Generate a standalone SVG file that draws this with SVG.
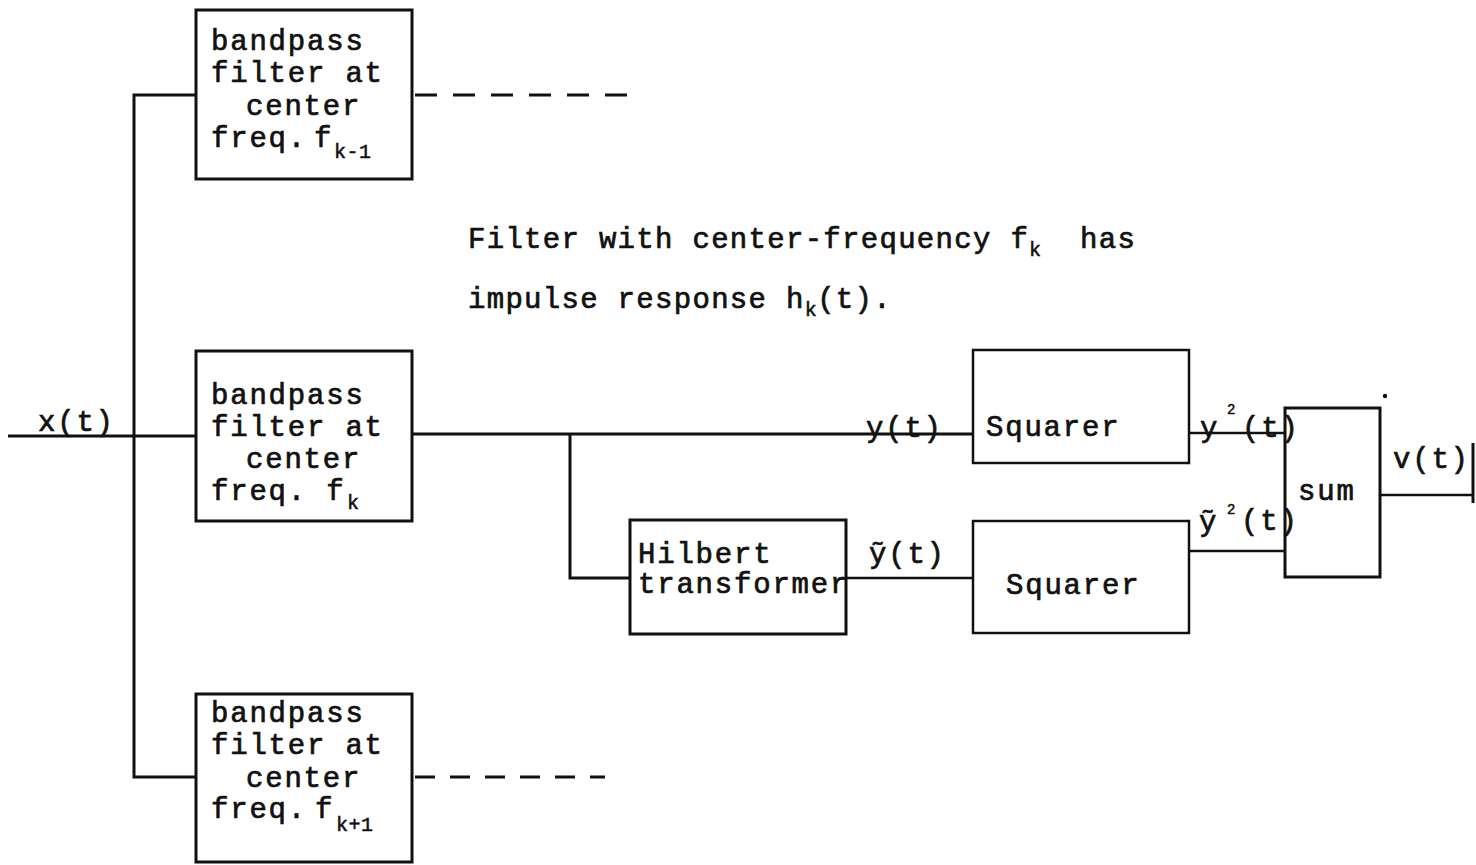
<svg xmlns="http://www.w3.org/2000/svg" width="1476" height="865" viewBox="0 0 1476 865">
  <style>
    .box { fill: none; stroke: #111; stroke-width: 3; }
    .thin { fill: none; stroke: #111; stroke-width: 2.5; }
    .wire { fill: none; stroke: #111; stroke-width: 3; }
    .dash { fill: none; stroke: #111; stroke-width: 3; stroke-dasharray: 20 15; }
    text { font-family: "Liberation Mono", "DejaVu Sans Mono", monospace; fill: #111; stroke: #111; stroke-width: 0.7; }
    .t { font-size: 29px; letter-spacing: 1.8px; }
    .h { font-size: 29px; letter-spacing: 1.3px; }
    .sub { font-size: 20px; letter-spacing: 0.5px; stroke-width: 0.5; }
    .sup { font-size: 14px; stroke-width: 0.5; }
  </style>
  <rect width="1476" height="865" fill="#ffffff"/>

  <!-- connectors -->
  <g id="connectors">
    <!-- input and distribution bus -->
    <line class="wire" x1="8" y1="436" x2="196" y2="436"/>
    <polyline class="wire" points="196,95 134,95 134,777 196,777"/>
    <!-- outputs of the neighbouring bands, continued elsewhere -->
    <line class="dash" x1="415" y1="95" x2="627" y2="95" style="stroke-dasharray: 22 16"/>
    <line class="dash" x1="415" y1="777" x2="605" y2="777"/>
    <!-- centre band output to squarer, with branch to the Hilbert transformer -->
    <line class="wire" x1="412" y1="434" x2="973" y2="434"/>
    <polyline class="wire" points="570,434 570,578 630,578"/>
    <line class="thin" x1="846" y1="578" x2="973" y2="578"/>
    <!-- squarers into the sum -->
    <line class="thin" x1="1189" y1="433" x2="1285" y2="433"/>
    <line class="thin" x1="1189" y1="551" x2="1285" y2="551"/>
    <!-- sum output -->
    <line class="thin" x1="1380" y1="495" x2="1473" y2="495"/>
    <line class="wire" x1="1473" y1="443" x2="1473" y2="503"/>
  </g>

  <!-- signal labels -->
  <g id="labels">
    <text class="t" x="38" y="431">x(t)</text>
    <text class="t" x="866" y="437">y(t)</text>
    <text class="t" x="869" y="563">ỹ(t)</text>
    <text class="t" x="1200" y="437">y</text>
    <text class="sup" x="1227" y="414">2</text>
    <text class="t" x="1242" y="437">(t)</text>
    <text class="t" x="1199" y="531">ỹ</text>
    <text class="sup" x="1227" y="514">2</text>
    <text class="t" x="1241" y="530">(t)</text>
    <text class="t" x="1393" y="468">v(t)</text>
    <circle cx="1385" cy="396" r="2.2" fill="#111"/>
  </g>

  <!-- note on the centre filter -->
  <g id="note">
    <text class="h" x="468" y="248">Filter with center-frequency f<tspan class="sub" dy="8">k</tspan><tspan dy="-8" x="1080">has</tspan></text>
    <text class="h" x="468" y="308">impulse response h<tspan class="sub" dy="8">k</tspan><tspan dy="-8">(t).</tspan></text>
  </g>

  <g id="bpf-k-minus-1">
    <rect class="box" x="196" y="10" width="216" height="169"/>
    <text class="t" x="211" y="50">bandpass</text>
    <text class="t" x="211" y="82">filter at</text>
    <text class="t" x="246" y="115">center</text>
    <text class="t" x="211" y="147">freq.<tspan x="314">f</tspan></text>
    <text class="sub" x="334" y="158">k-1</text>
  </g>

  <g id="bpf-k">
    <rect class="box" x="196" y="351" width="216" height="170"/>
    <text class="t" x="211" y="404">bandpass</text>
    <text class="t" x="211" y="436">filter at</text>
    <text class="t" x="246" y="468">center</text>
    <text class="t" x="211" y="500">freq. f</text>
    <text class="sub" x="347" y="509">k</text>
  </g>

  <g id="bpf-k-plus-1">
    <rect class="box" x="196" y="694" width="216" height="168"/>
    <text class="t" x="211" y="722">bandpass</text>
    <text class="t" x="211" y="754">filter at</text>
    <text class="t" x="246" y="787">center</text>
    <text class="t" x="211" y="818">freq.<tspan x="315">f</tspan></text>
    <text class="sub" x="336" y="831">k+1</text>
  </g>

  <g id="hilbert">
    <rect class="box" x="630" y="520" width="216" height="114"/>
    <text class="t" x="638" y="563">Hilbert</text>
    <text class="t" x="638" y="593">transformer</text>
  </g>

  <g id="squarer-1">
    <rect class="thin" x="973" y="350" width="216" height="113"/>
    <text class="t" x="986" y="436">Squarer</text>
  </g>

  <g id="squarer-2">
    <rect class="thin" x="973" y="521" width="216" height="112"/>
    <text class="t" x="1006" y="594">Squarer</text>
  </g>

  <g id="sum">
    <rect class="box" x="1285" y="408" width="95" height="169"/>
    <text class="t" x="1298" y="500">sum</text>
  </g>
</svg>
